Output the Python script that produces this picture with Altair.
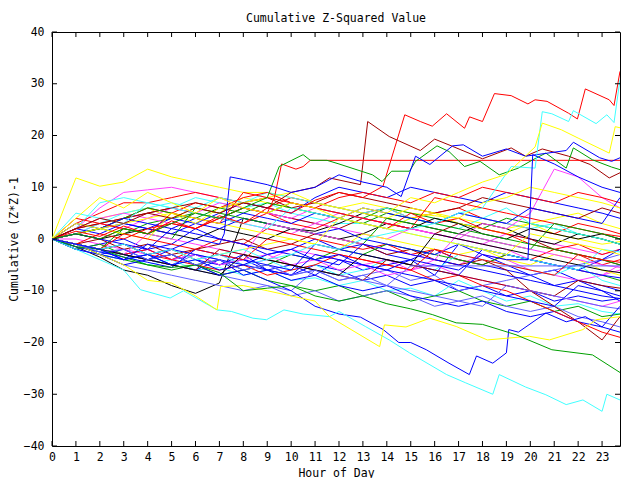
import altair as alt
import pandas as pd

# ---------------- data ----------------
HOURS = list(range(24)) + [23.75]

# background tangle: values at each whole hour (and 23:45)
T1 = [0, 2, 6, 9, 9.5, 10, 9, 8, 6, 5, 4, 3, 5, 4, 3, 2, 1, 0, -1, 1, 0, -1, -2, -3, -2]
T2 = [0, 11.8, 10.2, 11, 13.5, 12, 11, 10, 9, 9, 8, 7, 6, 7, 6, 5, 4.5, 4, 3, 2, 3, 1, 0, -1, -0.5]
T3 = [0, 3, 5, 7, 7, 8, 9, 8, 7, 6, 8, 7, 6, 5, 6, 4, 5, 6, 4, 3, 2, 1, 3, 2, 1]
T4 = [0, 2, 7, 8, 7, 6, 8, 7, 6, 7, 5, 4, 3, 3, 2, 4, 3, 2, 4, 3, 2, 3, 1, 0, -1]
T5 = [0, -1, -2, -3, -2, -4, -3, -5, -4, -6, -7, -5, -6, -8, -7, -9, -8, -10, -9, -11, -10, -12, -11, -12, -11.5]
T6 = [0, -1.5, -3.5, -6, -7, -9, -10.5, -8.5, 4, 3, 2, 1.5, 3, 5, 4, 3, 2, 1, 3, 2, 0, -1, 1, 0, -1]
T7 = [0, 1, 2, 4, 5, 6, 5, 4, 6, 5, 4, 3, 2, 4, 3, 2, 1, 3, 2, 1, 0, -2, -3, -4, -5]
T8 = [0, 1, 2, 1, 3, 4, 5, 4, 6, 5, 7, 6, 5, 4, 6, 5, 4, 3, 2, 4, 3, 2, 1, 0, -1]
T9 = [0, -2, -1, 0, -2, -1, 2, 0, -1, -3, -2, 0, -2, -1, -3, -4, -2, -4, -5, -6, -7, -6, -8, -9, -10]
T10 = [0, 0, -1, -2, -3, -2, -4, -3, -5, -4, -2, -3, -4, -5, -4, -6, -4, -5, -3, -4, -6, -7, -8, -7, -6]
T11 = [0, 1, 3, 2, 4, 3, 5, 4, 3, 2, 1, 3, 2, 1, 0, 2, 1, 0, 3, 2, 5, 13.5, 12, 8, 6]
T12 = [0, -1, -2.5, -3, -5, -4, -6, -5.5, -7, -6, -8, -7.5, -9, -8, -10, -9.5, -11, -8, -10, -12, -11, -13, -12.5, -14, -14.5]
T13 = [0, -1, -2, -1, -3, -4, -2, 0, -1, 2, 1, 0, -1, -2, -1, -3, -2, -4, -5, -3, -4, -2, -1, -3, -2]
T14 = [0, 1, 2, 3, 2, 4, 3, 5, 7, 6, 5, 8, 10, 9, 8, 10, 9, 8, 7, 9, 8, 7, 6, 5, 4]
T15 = [0, 2, 4, 5, 6, 4, 6, 5, 8, 7, 6, 5, 4, 3, 2, 4, 5, 3, 2, 1, 3, 4, 5, 3, 2]
T16 = [0, -1, -3, -4, -5, -6, -5, -7, -6, -8, -9, -10, -9, -11, -10, -12, -11, -10, -12, -13, -12, -14, -13, -15, -14.5]
T17 = [0, -2, -3, -5, -6, -7, -8, -9, -10, -9, -11, -10, -12, -11, -10, -11, -13, -12, -11, -13, -14, -13, -15, -16, -17]
T18 = [0, -1, 0, -2, -1, -3, -2, -1, 0, -2, -1, 1, 0, -1, -3, -2, -4, -5, -4, -6, -10, -13, -16, -19.5, -15]
T19 = [0, 1, 3, 5, 6, 7, 6, 8, 7, 9, 8, 7, 6, 5, 6, 4, 3, 5, 4, 6, 3, 2, 1, 0, -1]
T20 = [0, -1, -3, -5, -4, -2, -4, -5, -3, -6, -5, -7, -4, -6, -5, -4, -7, -1, -3, -5, -7, -9, -8, -10, -12]
T21 = [0, 1, 0, 2, 1, 3, 2, 4, 3, 5, 3, 2, 4, 3, 2, 5, 3, 4, 2, 1, -1, -2, -3, -5, -4]
T22 = [0, 1, 0, 1, 2, 1, 0, 2, 1, 0, 2, 1, 0, 1, 3, 2, 4, 3, 1, 0, 2, 1, 0, 1, 0]
T23 = [0, -2, -1, -3, -4, -3, -5, -4, -6, -5, -3, -4, -2, -3, -1, -2, -3, -4, -5, -3, -4, -5, -6, -7, -8]
T24 = [0, 2, 4, 5, 4, 6, 5, 7, 6, 5, 4, 6, 5, 4, 3, 2, 1, 0, -1, -2, -4, -5, -6, -7, -5]
T25 = [0, -1, -2, -3, -4, -5, -3, -4, -6, -5, -7, -6, -8, -7, -6, -8, -7, -10, -9, -8, -7, -6, -5, -4, -3]
T26 = [0, 2, 1, 3, 2, 1, 3, 2, 4, 3, 2, 1, 2, 0, -1, -2, -3, -1, -2, -3, -4, -5, -6, -4, -2]
T27 = [0, 2, 3, 4, 6, 5, 7, 6, 8, 9, 7, 6, 8, 9, 8, 7, 9, 8, 10, 9, 8, 7, 9, 8, 7]
T28 = [0, -1, -2, -1, -3, -2, -4, -3, -2, -1, 0, -1, -2, 1, 0, -1, -2, -3, -2, -4, -5, -3, -4, -6, -7]
T29 = [0, -1, -3, -4, -3, -5, -4, -3, -5, -4, -6, -5, -7, -6, -4, -5, -6, -3, -4, -5, -6, -7, -5, -8, -9]
T30 = [0, 2, 3, 4, 5, 6, 7, 6, 7, 8, 6, 7, 9, 8, 7, 6, 5, 6, 8, 7, 6, 5, 4, 6, 5]
T31 = [0, -1, -2, -4, -3, -5, -6, -4, -7, -6, -8, -7, -9, -10, -9, -11, -12, -13, -12, -14, -15, -14, -16, -17, -18]
T32 = [0, 1, 2, 4, 6, 5, 4, 6, 5, 7, 6, 5, 4, 3, 5, 4, 3, 2, 1, 0, -1, -2, -3, -4, -5]
T33 = [0, 3, 2, 4, 3, 2, 4, 3, 5, 4, 3, 5, 4, 6, 5, 4, 3, 5, 4, 3, 6, 5, 4, 3, 8]
T34 = [0, -1, -2, -3, -2, -4, -3, -5, -4, -3, -5, -4, -6, -5, -7, -6, -5, -7, -8, -9, -10, -11, -12, -13, -12]
T35 = [0, -1, -2, -3, -2, -4, -5, -6, -5, -7, -6, -5, -3, -4, -5, -6, -8, -7, -9, -10, -12, -14, -16, -18, -19]
T36 = [0, 1, 2, 3, 4, 5, 3, 6, 7, 8, 9, 7, 6, 5, 4, 6, 5, 4, 7, 8, 10, 9, 8, 7, 6]
T37 = [0, -1.5, -2.5, -3.5, -4.5, -5.5, -2, -3, -4, -5, -6, -1, -2, -3, -4, -5, -6, -7, -2, -3, -4, -5, -6, -7, -7.5]
T38 = [0, 4, 3, 2, 1, 5, 4, 3, 9, 8, 7, 6, 5, 4, 3, 2, 8, 7, 6, 5, 4, 3, 2, 1, 0.5]
T39 = [0, -1, -2, 2, 1, 0, 6, 5, 4, 3, 2, 1, 0, -1, 4, 3, 2, 1, 0, -1, -2, 3, 2, 1, 0]
T40 = [0, -1, -2, -3, 1, 0, -1, -2, -3, 3, 2, 1, 0, -1, -2, -3, -4, 1, 0, -1, -2, -3, -4, -5, -5.5]
T41 = [0, 5, 4, 3, 7, 6, 5, 4, 3, 2, 6, 5, 4, 3, 2, 1, 0, -1, -2, -3, -4, -5, -6, -2, -2.5]
T42 = [0, -1, -2, -3, -4, -5, -6, -2, -3, -4, -5, -6, -7, -8, -4, -5, -6, -7, -8, -9, -10, -11, -8, -9, -9.5]
T43 = [0, -2, -3, -4, -1, -2, -3, -4, -5, -6, -7, -3, -4, -5, -6, -7, -8, -9, -10, -11, -12, -13, -9, -10, -11]
T44 = [0, 3, 2, 1, 0, 5, 4, 3, 2, 1, 0, -1, 4, 3, 2, 1, 0, -1, -2, -3, 1, 0, -1, -2, -3]
T45 = [0, -1, -2, -3, -4, -5, -6, -7, -8, -9, -10, -6, -7, -8, -9, -10, -11, -12, -13, -9, -10, -11, -12, -13, -13.5]
T46 = [0, -1, -2, -3, -4, -5, -6, -7, -3, -4, -5, -6, -7, -3, -4, -5, 1, 0, -1, -2, -3, -4, -5, -6, -6.5]
T47 = [0, 1, 0, -1, -2, 2, 1, 0, -1, -2, -3, -4, -5, -1, -2, -3, -4, -5, -6, -7, -8, -9, -10, -11, -11.5]
T48 = [0, -1, -2, 1, 0, -1, -2, -3, -4, 0, -1, -2, -3, -4, -5, -6, -2, -3, -4, -5, -6, -7, -3, -4, -4.5]

# prominent series traced at their own times
RED_TOP_X = [0, 1, 2, 3, 4, 5, 6, 7, 8, 9, 10, 11, 12, 13, 13.84, 14.75, 15.4, 15.9, 16.5, 17.25, 17.46,
             18, 18.5, 19.2, 19.9, 20.2, 20.7, 21.6, 21.97, 22.3, 23.3, 23.5, 23.75]
RED_TOP_Y = [0, 1.5, 0.5, 2.5, 1, 3.5, 2, 4.5, 3, 6, 5, 7.5, 9, 8, 10.2, 24, 22.7, 21.8, 24.2, 21.4, 23.6,
             22.7, 28.1, 27.7, 26.1, 26.9, 26.6, 24.3, 23.2, 29, 26.9, 25.8, 32.4]
DARKRED_X = [0, 1, 2, 3, 4, 5, 6, 7, 8, 9, 10, 11, 11.6, 12.9, 13.2, 14.1, 15.4, 16, 16.75, 18, 19.2,
             19.8, 20.5, 21.6, 22.5, 23.3, 23.75]
DARKRED_Y = [0, 2, 4, 3, 5, 4, 6, 5, 7, 6, 9, 10, 11.8, 10.5, 22.7, 19.8, 17.1, 19.3, 17.9, 15.5, 17.6,
             16, 17.4, 16, 14.4, 11.8, 12.8]
RED_FLAT_X = [0, 1, 2, 3, 4, 5, 6, 7, 8, 9, 9.3, 9.6, 10.2, 10.5, 10.8, 23.75]
RED_FLAT_Y = [0, -1, 1, 0, 2, 3, 2, 4, 6, 5, 8, 14.5, 13.5, 14, 15.2, 15.2]
GREEN_HIGH_X = [0, 1, 2, 3, 4, 5, 6, 7, 8, 9, 9.5, 10.5, 10.8, 11.5, 12, 13.4, 13.8, 14.2, 14.95, 15.2,
                16.1, 16.6, 17.25, 17.9, 18.7, 19.5, 20.1, 20.65, 21.5, 21.8, 22.6, 23.4, 23.75]
GREEN_HIGH_Y = [0, 1, 0, 2, 1, 3, 5, 4, 6, 8, 14, 16.3, 15.2, 15.2, 14.5, 12.4, 11.1, 13.1, 13.1, 15,
                18, 16.9, 14, 15, 12.4, 13.7, 15.3, 16.6, 13.7, 17.6, 15.3, 13.9, 13.4]
BLUE_HIGH_X = [0, 1, 2, 3, 4, 5, 6, 7, 7.2, 7.45, 8, 9, 10, 11, 12, 13, 14, 14.6, 15.2, 15.8, 16.75,
               17.2, 18, 19, 19.8, 21.5, 21.8, 22.9, 23.4, 23.75]
BLUE_HIGH_Y = [0, -1, -2, -1, -3, -2, 0, -1, 1, 12, 11.5, 10.5, 9, 10, 12.4, 11, 10, 8.2, 16, 14.4, 18,
               18.2, 16, 17.4, 16, 17.1, 18.7, 15.7, 15, 15.7]
CYAN_LATE_X = [0, 1, 2, 3, 4, 5, 6, 7, 8, 9, 10, 11, 12, 13, 14, 15, 16, 17, 18, 19.2, 20.2, 20.5, 20.9,
               21.6, 21.8, 22.75, 23.2, 23.5, 23.75]
CYAN_LATE_Y = [0, -1, -2, -1, -3, -2, -4, -3, -2, -4, -3, -1, -2, 0, 1, 2, 3, 5, 6, 14, 13.7, 24.6, 24.2,
               22.7, 24.8, 22.3, 24, 22.5, 30.8]
YELLOW_LATE_X = [0, 1, 2, 3, 4, 5, 6, 7, 8, 9, 10, 11, 12, 13, 14, 15, 16, 17, 18, 19, 20.2, 20.5, 21.3,
                 22, 23.3, 23.55, 23.75]
YELLOW_LATE_Y = [0, 4, 8, 6, 9, 7, 5, 8, 6, 5, 7, 6, 4, 6, 5, 8, 7, 9, 11, 12.5, 17.8, 22.4, 21.1,
                 19.5, 16.6, 21.7, 21.5]
BLUE_LOW_X = [0, 1, 2, 3, 4, 5, 6, 7, 8, 9, 10, 11, 12, 12.9, 13.85, 14.5, 15, 15.65, 16.6, 17.45, 17.75,
              18.43, 19, 19.1, 19.5, 20.65, 21.5, 22.3, 23, 23.75]
BLUE_LOW_Y = [0, -1, -3, -2, -4, -3, -5, -7, -6, -8, -10, -13, -14.5, -15.1, -17.5, -20, -20, -21.4, -24,
              -26.2, -22.6, -24, -22, -17.5, -18, -14.3, -16, -15, -17, -13]
CYAN_BOTTOM_X = [0, 1, 2, 3, 3.7, 4.94, 5.5, 6.9, 7.5, 8.4, 8.97, 9.7, 10.5, 11.6, 12, 13.1, 14.1, 14.95,
                 16.5, 17.3, 18.43, 18.7, 19.8, 20.65, 21.5, 22.2, 23, 23.2, 23.75]
CYAN_BOTTOM_Y = [0, -2, -4, -6, -9.8, -11.4, -10, -13.7, -14, -15.3, -15.6, -13.7, -14.5, -15, -14, -16.9,
                 -19.5, -22, -26.2, -27.8, -30, -26.2, -28.6, -30.1, -32, -31.1, -33.3, -30, -31.1]
YELLOW_LOW_X = [0, 1, 2, 3, 4, 5, 6, 6.9, 7.05, 8, 9, 10, 11, 11.6, 13.7, 13.9, 14.8, 15.8, 16.9, 18.2,
                19.96, 20.8, 22.2, 22.75, 23.75]
YELLOW_LOW_Y = [0, -1, -3, -5, -8, -8.5, -11, -13.7, -9.2, -9, -10, -11, -12, -15, -20.8, -16.6, -17,
                -15.3, -16.9, -19.5, -18.8, -19.5, -17.5, -15.6, -15]
GREEN_LOW_X = [0, 1, 2, 3, 4, 5, 6, 7, 8, 9, 10, 11, 12, 13, 14, 15, 15.9, 16.9, 18, 19.4, 20.9, 22.6, 23.75]
GREEN_LOW_Y = [0, -1.5, -2, -3.5, -5, -5.5, -5, -6.5, -10, -9.5, -9, -11, -12, -11, -12.5, -13.5, -14.6,
               -16.2, -16.5, -18.5, -21.4, -22.4, -25.8]
SLATE_FLAT_X = [0, 1, 2, 3, 4, 5, 6, 7, 8, 9, 10, 11, 12, 13, 14, 15, 23.75]
SLATE_FLAT_Y = [0, -1, -2.5, -2, -4, -3, -5, -4, -6, -5, -7, -6, -8, -7, -9, -5.2, -5.2]
BLUE_JUMP_X = [0, 1, 2, 3, 4, 5, 6, 7, 8, 9, 10, 11, 12, 13, 14, 15, 16, 17, 18, 19, 19.9, 20.1, 21, 22,
               23, 23.75]
BLUE_JUMP_Y = [0, -1, -2, -4, -3, -5, -4, -6, -5, -3, -2, -4, -3, -5, -6, -4, -5, -6, -3, -4, -4, 16.3,
               14.5, 12, 10, 9]

TANGLE = {
    "T1": T1, "T2": T2, "T3": T3, "T4": T4, "T5": T5, "T6": T6, "T7": T7, "T8": T8, "T9": T9,
    "T10": T10, "T11": T11, "T12": T12, "T13": T13, "T14": T14, "T15": T15, "T16": T16, "T17": T17,
    "T18": T18, "T19": T19, "T20": T20, "T21": T21, "T22": T22, "T23": T23, "T24": T24, "T25": T25,
    "T26": T26, "T27": T27, "T28": T28, "T29": T29, "T30": T30, "T31": T31, "T32": T32, "T33": T33,
    "T34": T34, "T35": T35, "T36": T36, "T37": T37, "T38": T38, "T39": T39, "T40": T40, "T41": T41,
    "T42": T42, "T43": T43, "T44": T44, "T45": T45, "T46": T46, "T47": T47, "T48": T48,
}
TRACED = {
    "red_top": (RED_TOP_X, RED_TOP_Y),
    "darkred_jump": (DARKRED_X, DARKRED_Y),
    "red_flat": (RED_FLAT_X, RED_FLAT_Y),
    "green_high": (GREEN_HIGH_X, GREEN_HIGH_Y),
    "blue_high": (BLUE_HIGH_X, BLUE_HIGH_Y),
    "cyan_late": (CYAN_LATE_X, CYAN_LATE_Y),
    "yellow_late": (YELLOW_LATE_X, YELLOW_LATE_Y),
    "blue_low": (BLUE_LOW_X, BLUE_LOW_Y),
    "cyan_bottom": (CYAN_BOTTOM_X, CYAN_BOTTOM_Y),
    "yellow_low": (YELLOW_LOW_X, YELLOW_LOW_Y),
    "green_low": (GREEN_LOW_X, GREEN_LOW_Y),
    "slate_flat": (SLATE_FLAT_X, SLATE_FLAT_Y),
    "blue_jump": (BLUE_JUMP_X, BLUE_JUMP_Y),
}

X_TICKS = list(range(24))
Y_TICKS = list(range(-40, 41, 10))

# ---------------- styles ----------------
PALETTE = {
    "red": "#ff0000", "green": "#00a000", "blue": "#0000ff", "magenta": "#ff40ff",
    "cyan": "#40ffff", "darkred": "#a00000", "yellow": "#ffff00", "black": "#000000",
    "slate": "#6060ff",
}
SERIES_COLOR = {
    "T1": "magenta", "T2": "yellow", "T3": "red", "T4": "cyan", "T5": "blue", "T6": "black",
    "T7": "darkred", "T8": "green", "T9": "blue", "T10": "magenta", "T11": "magenta", "T12": "cyan",
    "T13": "red", "T14": "blue", "T15": "yellow", "T16": "green", "T17": "slate", "T18": "darkred",
    "T19": "cyan", "T20": "blue", "T21": "red", "T22": "black", "T23": "green", "T24": "magenta",
    "T25": "slate", "T26": "blue", "T27": "red", "T28": "yellow", "T29": "cyan", "T30": "darkred",
    "T31": "blue", "T32": "green", "T33": "blue", "T34": "magenta", "T35": "red", "T36": "yellow",
    "T37": "blue", "T38": "red", "T39": "green", "T40": "magenta", "T41": "cyan", "T42": "darkred",
    "T43": "blue", "T44": "yellow", "T45": "slate", "T46": "black", "T47": "blue", "T48": "red",
    "red_top": "red", "darkred_jump": "darkred", "red_flat": "red", "green_high": "green",
    "blue_high": "blue", "cyan_late": "cyan", "yellow_late": "yellow", "blue_low": "blue",
    "cyan_bottom": "cyan", "yellow_low": "yellow", "green_low": "green", "slate_flat": "slate",
    "blue_jump": "blue",
}

rows = []
for name, ys in TANGLE.items():
    for i, (h, v) in enumerate(zip(HOURS, ys)):
        rows.append({"series": name, "hour": h, "value": v, "i": i})
for name, (xs, ys) in TRACED.items():
    for i, (h, v) in enumerate(zip(xs, ys)):
        rows.append({"series": name, "hour": h, "value": v, "i": i})
df = pd.DataFrame(rows)

names = list(SERIES_COLOR.keys())
colors = [PALETTE[SERIES_COLOR[n]] for n in names]

W, H = 568, 414
FONT = "DejaVu Sans Mono"
FS = 11.5
TICK = 5

xscale = alt.Scale(domain=[0, 23.75], nice=False, zero=False)
yscale = alt.Scale(domain=[-40, 40], nice=False, zero=False)

XAXIS = alt.Axis(
    values=X_TICKS, title="Hour of Day", ticks=False, domain=False, grid=False,
    labelPadding=5, labelFont=FONT, labelFontSize=FS, labelColor="black",
    labelFlush=False, labelOverlap=False,
    titleFont=FONT, titleFontSize=FS, titleFontWeight="normal", titleColor="black",
    titleX=W / 2, titleY=30, titleBaseline="alphabetic", titleAlign="center")
YAXIS = alt.Axis(
    values=Y_TICKS, title="Cumulative (Z*Z)-1", ticks=False, domain=False, grid=False,
    labelPadding=8, labelFont=FONT, labelFontSize=FS, labelColor="black",
    labelFlush=False, labelOverlap=False,
    titleFont=FONT, titleFontSize=FS, titleFontWeight="normal", titleColor="black",
    titleX=-35, titleY=H / 2, titleAngle=270, titleBaseline="alphabetic", titleAlign="center")

lines = alt.Chart(df).mark_line(strokeWidth=1, clip=True).encode(
    x=alt.X("hour:Q", scale=xscale, axis=XAXIS),
    y=alt.Y("value:Q", scale=yscale, axis=YAXIS),
    color=alt.Color("series:N", scale=alt.Scale(domain=names, range=colors), legend=None),
    detail="series:N",
    order=alt.Order("i:Q"),
)

xt = pd.DataFrame({"hour": X_TICKS})
yt = pd.DataFrame({"value": Y_TICKS})

xt_bottom = alt.Chart(xt).mark_rule(color="black", strokeWidth=1).encode(
    x=alt.X("hour:Q", scale=xscale, axis=XAXIS), y=alt.value(H), y2=alt.value(H - TICK))
xt_top = alt.Chart(xt).mark_rule(color="black", strokeWidth=1).encode(
    x=alt.X("hour:Q", scale=xscale, axis=XAXIS), y=alt.value(0), y2=alt.value(TICK))
yt_left = alt.Chart(yt).mark_rule(color="black", strokeWidth=1).encode(
    y=alt.Y("value:Q", scale=yscale, axis=YAXIS), x=alt.value(0), x2=alt.value(TICK))
yt_right = alt.Chart(yt).mark_rule(color="black", strokeWidth=1).encode(
    y=alt.Y("value:Q", scale=yscale, axis=YAXIS), x=alt.value(W), x2=alt.value(W - TICK))

chart = alt.layer(lines, xt_bottom, xt_top, yt_left, yt_right).properties(
    width=W, height=H,
    autosize=alt.AutoSizeParams(type="none"),
    padding={"left": 44, "top": 24, "right": 12, "bottom": 32},
    background="white",
    title=alt.TitleParams("Cumulative Z-Squared Value", font=FONT, fontSize=FS,
                          fontWeight="normal", color="black", anchor="middle", offset=2),
).configure_view(stroke="black", strokeWidth=1)

chart.save("out.html", embed_options={"renderer": "svg", "actions": False})
